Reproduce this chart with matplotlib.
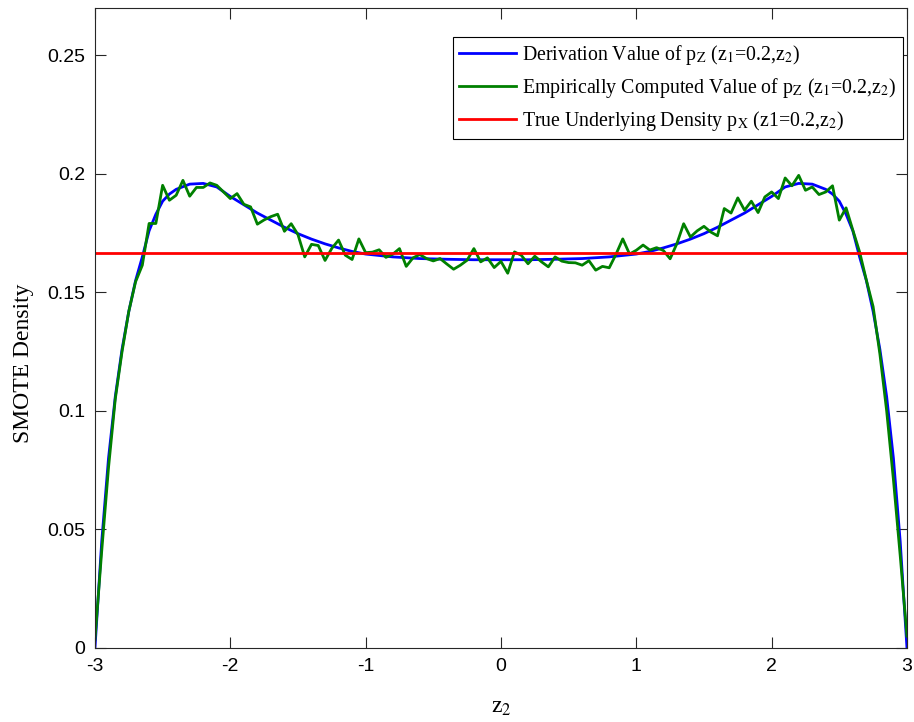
import numpy as np
import matplotlib
matplotlib.use('Agg')
import matplotlib.pyplot as plt

plt.rcParams['mathtext.fontset'] = 'stix'

# derivation curve
deriv_z = [-3.00, -2.95, -2.90, -2.85, -2.80, -2.75, -2.70, -2.65, -2.60, -2.55,
           -2.50, -2.45, -2.40, -2.30, -2.20, -2.10, -2.00, -1.90, -1.80, -1.70,
           -1.60, -1.50, -1.40, -1.30, -1.20, -1.10, -1.00, -0.80, -0.60, -0.40,
           -0.20, 0.00, 0.20, 0.40, 0.60, 0.80, 1.00, 1.10, 1.20, 1.30,
           1.40, 1.50, 1.60, 1.70, 1.80, 1.90, 2.00, 2.10, 2.20, 2.30,
           2.40, 2.45, 2.50, 2.55, 2.60, 2.65, 2.70, 2.75, 2.80, 2.85,
           2.90, 2.95, 3.00]
deriv_p = [0.000, 0.045, 0.080, 0.106, 0.126, 0.142, 0.155, 0.165, 0.176, 0.183,
           0.1885, 0.1915, 0.1935, 0.1957, 0.1960, 0.1945, 0.1905, 0.1870, 0.1835, 0.1805,
           0.1775, 0.1748, 0.1725, 0.1705, 0.1688, 0.1673, 0.1662, 0.1650, 0.1643, 0.1640,
           0.1638, 0.1638, 0.1638, 0.1640, 0.1643, 0.1650, 0.1662, 0.1673, 0.1688, 0.1705,
           0.1725, 0.1748, 0.1775, 0.1805, 0.1835, 0.1870, 0.1905, 0.1945, 0.1960, 0.1957,
           0.1935, 0.1915, 0.1885, 0.183, 0.176, 0.165, 0.155, 0.142, 0.126, 0.106,
           0.080, 0.045, 0.000]

# empirical estimate, one value per 0.05 step from -3 to 3
emp_z = np.round(np.arange(-3.0, 3.0001, 0.05), 2)
emp_p = [0.0035, 0.041, 0.076, 0.105, 0.125, 0.142, 0.1545, 0.1615, 0.1791, 0.1791,
         0.1952, 0.1889, 0.1910, 0.1973, 0.1906, 0.1943, 0.1943, 0.1962, 0.1952, 0.1924,
         0.1896, 0.1917, 0.1872, 0.1861, 0.1788, 0.1806, 0.1820, 0.1830, 0.1758, 0.1790,
         0.1744, 0.1650, 0.1703, 0.1698, 0.1635, 0.1686, 0.1721, 0.1657, 0.1639, 0.1726,
         0.1668, 0.1670, 0.1680, 0.1648, 0.1661, 0.1685, 0.1610, 0.1646, 0.1660, 0.1643,
         0.1633, 0.1643, 0.1620, 0.1598, 0.1615, 0.1636, 0.1685, 0.1629, 0.1646, 0.1605,
         0.1631, 0.1581, 0.1671, 0.1657, 0.1621, 0.1653, 0.1629, 0.1608, 0.1650, 0.1632,
         0.1626, 0.1625, 0.1615, 0.1634, 0.1594, 0.1610, 0.1604, 0.1661, 0.1726, 0.1662,
         0.1678, 0.1700, 0.1679, 0.1689, 0.1677, 0.1642, 0.1706, 0.1790, 0.1734, 0.1760,
         0.1779, 0.1755, 0.1739, 0.1854, 0.1835, 0.1899, 0.1847, 0.1885, 0.1837, 0.1903,
         0.1924, 0.1896, 0.1983, 0.1950, 0.1994, 0.1931, 0.1945, 0.1913, 0.1924, 0.1950,
         0.1805, 0.1857, 0.1763, 0.1671, 0.1552, 0.1440, 0.124, 0.100, 0.071, 0.039,
         0.005]

# true uniform density
true_z = [-3, 3]
true_p = [1 / 6, 1 / 6]

x_ticks = [-3, -2, -1, 0, 1, 2, 3]
y_ticks = [0, 0.05, 0.1, 0.15, 0.2, 0.25]
y_tick_labels = ['0', '0.05', '0.1', '0.15', '0.2', '0.25']

labels = [r'Derivation Value of p$_{\mathrm{Z}}$ (z$_1$=0.2,z$_2$)',
          r'Empirically Computed Value of p$_{\mathrm{Z}}$ (z$_1$=0.2,z$_2$)',
          r'True Underlying Density p$_{\mathrm{X}}$ (z1=0.2,z$_2$)']

fig = plt.figure(figsize=(9.14, 7.22), dpi=100)
ax = fig.add_axes([0.1039, 0.1025, 0.8884, 0.8864])

ax.plot(deriv_z, deriv_p, color=(0, 0, 1), lw=2, label=labels[0])
ax.plot(emp_z, emp_p, color=(0, 0.5, 0), lw=2, label=labels[1])
ax.plot(true_z, true_p, color=(1, 0, 0), lw=2, label=labels[2])

ax.set_xlim(-3, 3)
ax.set_ylim(0, 0.27)
ax.set_xticks(x_ticks)
ax.set_xticklabels([str(t) for t in x_ticks], family='Liberation Sans', fontsize=14)
ax.set_yticks(y_ticks)
ax.set_yticklabels(y_tick_labels, family='Liberation Sans', fontsize=14)
ax.tick_params(direction='in', length=8, width=0.8, top=True, right=True,
               colors=(0.15, 0.15, 0.15), labelcolor='black', pad=7)
for s in ax.spines.values():
    s.set_linewidth(0.8)
    s.set_color((0.15, 0.15, 0.15))

ax.set_xlabel(r'z$_2$', family='Liberation Serif', fontsize=17, labelpad=16)
ax.set_ylabel('SMOTE Density', family='Liberation Serif', fontsize=17)
ax.yaxis.set_label_coords(-0.075, 0.445)

leg = ax.legend(loc='upper right', bbox_to_anchor=(0.995, 0.955), borderaxespad=0,
                prop={'family': 'Liberation Serif', 'size': 14.3},
                fancybox=False, framealpha=1, edgecolor='black',
                handlelength=2.9, handletextpad=0.3, borderpad=0.3, labelspacing=0.45)
leg.get_frame().set_linewidth(0.8)

fig.savefig('out.png', dpi=100)
